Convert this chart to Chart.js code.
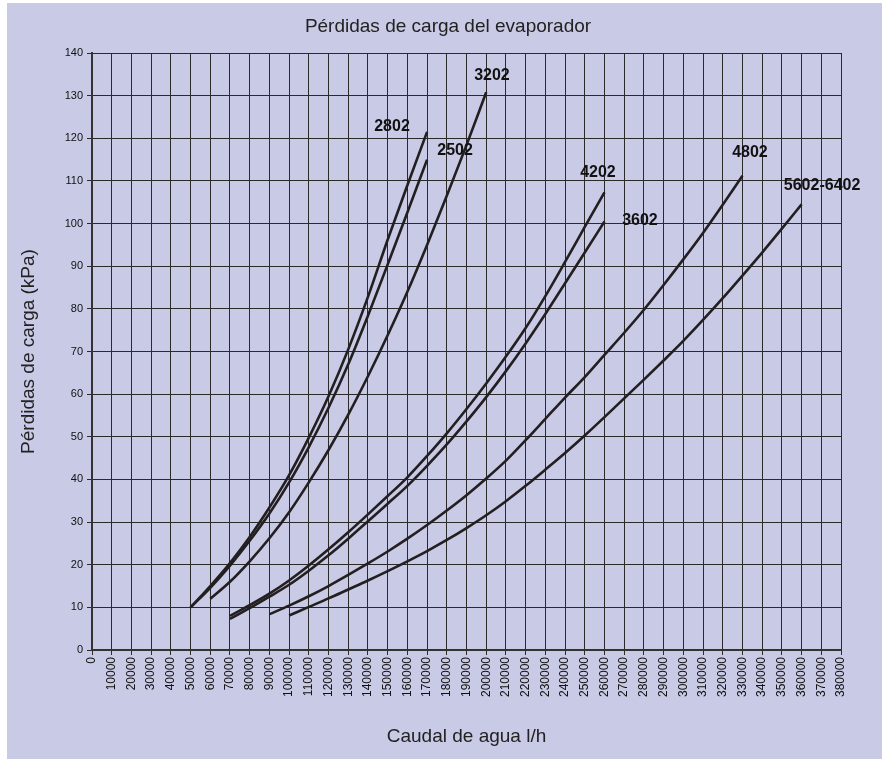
<!DOCTYPE html>
<html>
<head>
<meta charset="utf-8">
<script src="https://cdn.jsdelivr.net/npm/chart.js@4"></script>
<style>
  html, body { margin: 0; padding: 0; background: #ffffff; }
  #wrap { width: 896px; height: 760px; }
</style>
</head>
<body>
<div id="wrap"><canvas id="chart" width="896" height="760"></canvas></div>
<script>
// caudal (l/h) and pérdidas (kPa) for every model
const flow2802 = [50000, 60000, 70000, 80000, 90000, 100000, 110000, 120000, 130000, 140000, 150000, 160000, 170000];
const loss2802 = [10, 15, 20.4, 26.5, 33.4, 41, 49.8, 59.5, 70.5, 82.8, 96.2, 109, 121.5];

const flow2502 = [50000, 60000, 70000, 80000, 90000, 100000, 110000, 120000, 130000, 140000, 150000, 160000, 170000];
const loss2502 = [10, 14.6, 19.8, 25.6, 32, 39.3, 47.6, 56.8, 67, 78.4, 90.4, 102.6, 115];

const flow3202 = [60000, 70000, 80000, 90000, 100000, 110000, 120000, 130000, 140000, 150000, 160000, 170000, 180000, 190000, 200000];
const loss3202 = [12, 16, 20.8, 26.2, 32.3, 39.3, 46.9, 55.2, 64.2, 73.8, 84, 95, 106.5, 118.4, 130.8];

const flow4202 = [70000, 80000, 90000, 100000, 110000, 120000, 130000, 140000, 150000, 160000, 170000, 180000, 190000, 200000, 210000, 220000, 230000, 240000, 250000, 260000];
const loss4202 = [8, 10.5, 13.2, 16.3, 19.8, 23.6, 27.6, 31.8, 36.1, 40.5, 45.5, 50.8, 56.5, 62.5, 68.8, 75.5, 83, 91, 99.2, 107.3];

const flow3602 = [70000, 80000, 90000, 100000, 110000, 120000, 130000, 140000, 150000, 160000, 170000, 180000, 190000, 200000, 210000, 220000, 230000, 240000, 250000, 260000];
const loss3602 = [7.3, 9.8, 12.5, 15.3, 18.6, 22.2, 26.1, 30.2, 34.3, 38.5, 43.2, 48.2, 53.6, 59.3, 65.4, 71.9, 78.8, 86, 93.2, 100.5];

const flow4802 = [90000, 100000, 110000, 120000, 130000, 140000, 150000, 160000, 170000, 180000, 190000, 200000, 210000, 220000, 230000, 240000, 250000, 260000, 270000, 280000, 290000, 300000, 310000, 320000, 330000];
const loss4802 = [8.4, 10.4, 12.6, 15, 17.6, 20.3, 23.1, 26.1, 29.3, 32.7, 36.3, 40.2, 44.4, 49.2, 54.2, 59.2, 64, 69.2, 74.4, 79.8, 85.6, 91.6, 97.8, 104.4, 111.2];

const flow5602 = [100000, 110000, 120000, 130000, 140000, 150000, 160000, 170000, 180000, 190000, 200000, 210000, 220000, 230000, 240000, 250000, 260000, 270000, 280000, 290000, 300000, 310000, 320000, 330000, 340000, 350000, 360000];
const loss5602 = [8.1, 10.1, 12.1, 14.2, 16.3, 18.5, 20.8, 23.2, 25.8, 28.6, 31.6, 34.9, 38.5, 42.3, 46.2, 50.3, 54.6, 59, 63.4, 67.9, 72.5, 77.4, 82.5, 87.8, 93.2, 98.8, 104.5];

// curve names and where their names sit (in axis units)
const models = ['2802', '2502', '3202', '4202', '3602', '4802', '5602-6402'];
const labelFlow = [152200, 184200, 202900, 256700, 278000, 333800, 370400];
const labelLoss = [122.7, 117, 134.8, 111.9, 100.6, 116.6, 108.8];

const flows = [flow2802, flow2502, flow3202, flow4202, flow3602, flow4802, flow5602];
const losses = [loss2802, loss2502, loss3202, loss4202, loss3602, loss4802, loss5602];

const xMin = 0, xMax = 380000, xStep = 10000;
const yMin = 0, yMax = 140, yStep = 10;

const FONT = '"Liberation Sans", Arial, sans-serif';
const INK = '#231f20';

const datasets = models.map((m, i) => ({
  label: m,
  data: flows[i].map((f, j) => ({ x: f, y: losses[i][j] })),
  borderColor: INK,
  borderWidth: 2.6,
  pointRadius: 0,
  cubicInterpolationMode: 'monotone',
  fill: false
}));

const panel = {
  id: 'panel',
  beforeDraw(chart) {
    const ctx = chart.ctx;
    ctx.save();
    ctx.fillStyle = '#c8cae6';
    ctx.fillRect(7, 3, 875, 756);
    ctx.fillStyle = '#222';
    ctx.font = '19px ' + FONT;
    ctx.textAlign = 'center';
    ctx.textBaseline = 'middle';
    ctx.fillText('Pérdidas de carga del evaporador', 448, 27);
    ctx.restore();
  }
};

const curveNames = {
  id: 'curveNames',
  afterDatasetsDraw(chart) {
    const ctx = chart.ctx;
    const xs = chart.scales.x, ys = chart.scales.y;
    ctx.save();
    ctx.fillStyle = '#111';
    ctx.font = 'bold 16px ' + FONT;
    ctx.textAlign = 'center';
    ctx.textBaseline = 'middle';
    models.forEach((m, i) => {
      ctx.fillText(m, xs.getPixelForValue(labelFlow[i]), ys.getPixelForValue(labelLoss[i]));
    });
    ctx.restore();
  }
};

new Chart(document.getElementById('chart'), {
  type: 'line',
  data: { datasets },
  plugins: [panel, curveNames],
  options: {
    responsive: false,
    animation: false,
    events: [],
    layout: { padding: { left: 10, right: 55, top: 53, bottom: 10 } },
    plugins: { legend: { display: false }, tooltip: { enabled: false }, title: { display: false } },
    scales: {
      x: {
        type: 'linear',
        min: xMin, max: xMax,
        afterFit(scale) { scale.height = 100; },
        afterBuildTicks(scale) {
          const t = [];
          for (let v = xMin; v <= xMax; v += xStep) t.push({ value: v });
          scale.ticks = t;
        },
        ticks: {
          autoSkip: false,
          minRotation: 90, maxRotation: 90,
          padding: 2,
          color: '#111',
          font: { family: FONT, size: 12 },
          callback: v => String(v)
        },
        grid: { color: '#2a2a2a', lineWidth: 1, tickLength: 5 },
        border: { color: '#333', width: 2 },
        title: {
          display: true,
          text: 'Caudal de agua l/h',
          color: '#222',
          font: { family: FONT, size: 19 },
          padding: { top: 4, bottom: 2 }
        }
      },
      y: {
        min: yMin, max: yMax,
        afterFit(scale) { scale.width = 82; },
        ticks: {
          stepSize: yStep,
          padding: 4,
          color: '#111',
          font: { family: FONT, size: 11 }
        },
        grid: { color: '#2a2a2a', lineWidth: 1, tickLength: 5 },
        border: { color: '#333', width: 2 },
        title: {
          display: true,
          text: 'Pérdidas de carga (kPa)',
          color: '#222',
          font: { family: FONT, size: 19 },
          padding: { top: 7, bottom: 4 }
        }
      }
    }
  }
});
</script>
</body>
</html>
